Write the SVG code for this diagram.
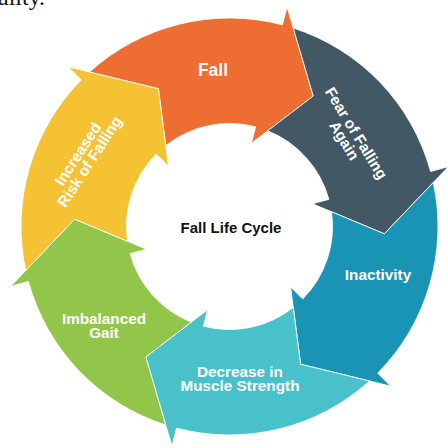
<svg xmlns="http://www.w3.org/2000/svg" xmlns:xlink="http://www.w3.org/1999/xlink" width="447" height="448" viewBox="0 0 447 448">
  <style>
    .seg { stroke: #ffffff; stroke-width: 0.8; stroke-linejoin: miter; }
    .lbl { font-family: "Liberation Sans", Arial, sans-serif; font-weight: bold; font-size: 15.3px; fill: #ffffff; text-anchor: middle; }
    .title { font-family: "Liberation Sans", Arial, sans-serif; font-weight: bold; font-size: 15px; fill: #111111; text-anchor: middle; }
    .frag { font-family: "Liberation Serif", "Times New Roman", serif; font-size: 24px; fill: #111111; }
  </style>
  <defs>
    <path id="seg" d="M -174.64 -113.90 A 208.5 208.5 0 0 1 0 -208.5 L 0 -227 L 47.90 -147.41 L 0 -86 L 0 -103 A 103 103 0 0 0 -82.20 -62.07 L -103.72 -115.19 Z"/>
  </defs>
  <rect width="447" height="448" fill="#ffffff"/>
  <text class="frag" x="-2" y="4.5">ality.</text>

  <g id="connectors"></g>

  <g id="node-fall">
    <use xlink:href="#seg" class="seg" fill="#ED6D32" transform="translate(229.5 226.5) rotate(14.7)"/>
    <text class="lbl" x="213" y="76" style="font-size:17.5px">Fall</text>
  </g>
  <g id="node-fear">
    <use xlink:href="#seg" class="seg" fill="#435865" transform="translate(229.5 226.5) rotate(74.7)"/>
    <g transform="translate(350 137) rotate(58.5)">
      <text class="lbl" x="0" y="-2">Fear of Falling</text>
      <text class="lbl" x="0" y="12">Again</text>
    </g>
  </g>
  <g id="node-inactivity">
    <use xlink:href="#seg" class="seg" fill="#1A94B4" transform="translate(229.5 226.5) rotate(134.7)"/>
    <text class="lbl" x="378" y="279.5">Inactivity</text>
  </g>
  <g id="node-muscle">
    <use xlink:href="#seg" class="seg" fill="#49C1CA" transform="translate(229.5 226.5) rotate(194.7)"/>
    <text class="lbl" x="240" y="377">Decrease in</text>
    <text class="lbl" x="240" y="391">Muscle Strength</text>
  </g>
  <g id="node-gait">
    <use xlink:href="#seg" class="seg" fill="#92C64B" transform="translate(229.5 226.5) rotate(254.7)"/>
    <text class="lbl" x="104" y="324">Imbalanced</text>
    <text class="lbl" x="104" y="338">Gait</text>
  </g>
  <g id="node-risk">
    <use xlink:href="#seg" class="seg" fill="#F5C233" transform="translate(229.5 226.5) rotate(314.7)"/>
    <g transform="translate(84 158) rotate(-57)">
      <text class="lbl" x="0" y="-2">Increased</text>
      <text class="lbl" x="0" y="12">Risk of Falling</text>
    </g>
  </g>
  <g id="node-center">
    <text class="title" x="231" y="233">Fall Life Cycle</text>
  </g>
</svg>
